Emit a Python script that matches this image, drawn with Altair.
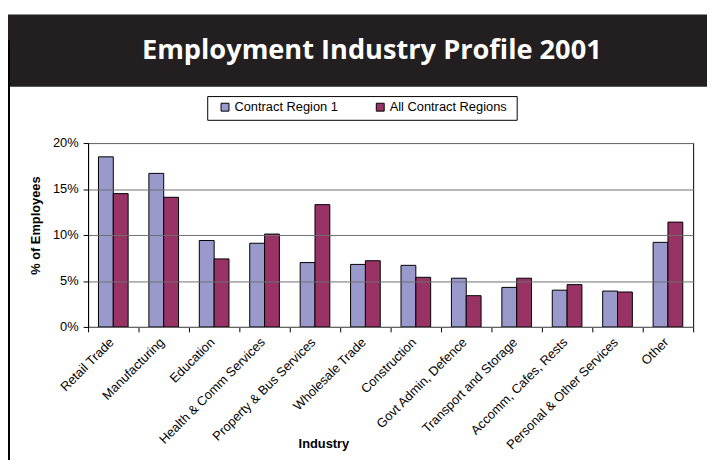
import altair as alt
import pandas as pd

industries = [
    "Retail Trade", "Manufacturing", "Education", "Health & Comm Services",
    "Property & Bus Services", "Wholesale Trade", "Construction",
    "Govt Admin, Defence", "Transport and Storage", "Accomm, Cafes, Rests",
    "Personal & Other Services", "Other",
]
series_names = ["Contract Region 1", "All Contract Regions"]
region1 = [0.185, 0.167, 0.094, 0.091, 0.070, 0.068, 0.067, 0.053, 0.043, 0.040, 0.039, 0.092]
all_regions = [0.145, 0.141, 0.074, 0.101, 0.133, 0.072, 0.054, 0.034, 0.053, 0.046, 0.038, 0.114]
y_ticks = [0, 0.05, 0.10, 0.15, 0.20]
colors = ["#9999CC", "#993366"]
title_text = "Employment Industry Profile 2001"

rows = []
for i, ind in enumerate(industries):
    rows.append({"Industry": ind, "Series": series_names[0], "Value": region1[i]})
    rows.append({"Industry": ind, "Series": series_names[1], "Value": all_regions[i]})
df = pd.DataFrame(rows)

FONT = "Liberation Sans"

bars = alt.Chart(df).mark_bar(stroke="black", strokeWidth=1).encode(
    x=alt.X(
        "Industry:N",
        sort=industries,
        scale=alt.Scale(paddingInner=0, paddingOuter=0),
        axis=alt.Axis(
            title="Industry",
            labelAngle=-45,
            labelAlign="right",
            labelBaseline="middle",
            labelFont=FONT,
            labelFontSize=13,
            labelColor="black",
            labelPadding=8,
            labelOffset=-2,
            tickBand="extent",
            tickColor="black",
            tickSize=5,
            domainColor="black",
            titleFont=FONT,
            titleFontSize=13,
            titleFontWeight="bold",
            titleColor="black",
            titleX=238,
            titleY=118,
            titleAlign="center",
            titleBaseline="middle",
            grid=False,
        ),
    ),
    xOffset=alt.XOffset(
        "Series:N",
        sort=series_names,
        scale=alt.Scale(paddingInner=0, paddingOuter=0.7),
    ),
    y=alt.Y(
        "Value:Q",
        scale=alt.Scale(domain=[0, 0.2], nice=False),
        axis=alt.Axis(
            title="% of Employees",
            format=".0%",
            values=y_ticks,
            labelFont=FONT,
            labelFontSize=13,
            labelColor="black",
            labelPadding=5,
            tickColor="black",
            tickSize=5,
            domainColor="black",
            gridColor="#707070",
            gridWidth=1,
            titleFont=FONT,
            titleFontSize=13,
            titleFontWeight="bold",
            titleColor="black",
            titleAngle=270,
            titleX=-53,
            titleY=83,
            titleAlign="center",
            titleBaseline="middle",
            zindex=1,
        ),
    ),
    color=alt.Color(
        "Series:N",
        sort=series_names,
        scale=alt.Scale(domain=series_names, range=colors),
        legend=alt.Legend(
            title=None,
            orient="none",
            legendX=132,
            legendY=-43,
            direction="horizontal",
            symbolType="square",
            symbolSize=64,
            symbolStrokeColor="black",
            symbolStrokeWidth=1,
            symbolOffset=0,
            labelFont=FONT,
            labelFontSize=13,
            labelColor="black",
            labelOffset=3,
            columnPadding=36,
            padding=0,
        ),
    ),
)

one = pd.DataFrame({"t": [title_text]})

banner = alt.Chart(one).mark_rect(color="#231F20", clip=False).encode(
    x=alt.value(-81), x2=alt.value(626), y=alt.value(-130), y2=alt.value(-57)
)

legend_box = alt.Chart(one).mark_rect(
    fill="white", stroke="black", strokeWidth=1, clip=False
).encode(
    x=alt.value(121), x2=alt.value(434), y=alt.value(-47), y2=alt.value(-23)
)

title = alt.Chart(one).mark_text(
    color="white", font="Open Sans", fontWeight="bold", fontSize=27.5,
    align="center", baseline="alphabetic", clip=False,
).encode(
    x=alt.value(287), y=alt.value(-85), text="t:N"
)

left_line = alt.Chart(one).mark_rule(
    color="black", strokeWidth=2, clip=False
).encode(
    x=alt.value(-80), y=alt.value(-104), y2=alt.value(330)
)

chart = alt.layer(banner, legend_box, left_line, title, bars).properties(
    width=612,
    height=186,
    autosize=alt.AutoSizeParams(type="none"),
    padding={"left": 81, "top": 134, "right": 14, "bottom": 132},
    background="white",
).configure_view(stroke="black", strokeWidth=1)

chart.save("out.html", embed_options={"renderer": "svg", "actions": False})
